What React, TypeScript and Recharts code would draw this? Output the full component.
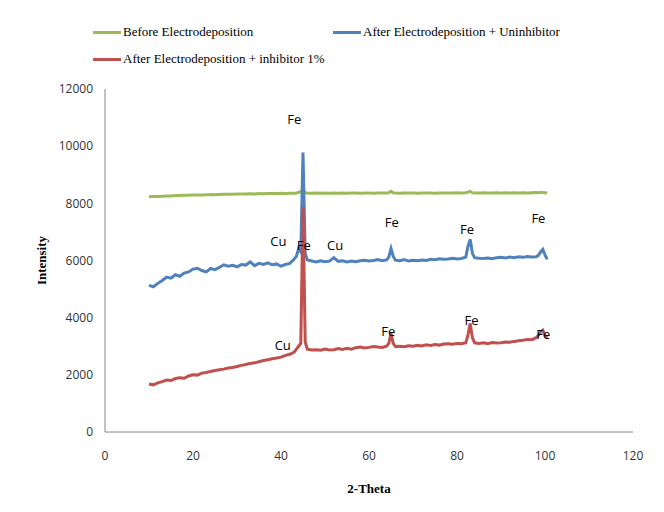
import React from 'react';
import { LineChart, Line, XAxis, YAxis, Legend, ReferenceDot, Label } from 'recharts';

const theta = [10,11,12,13,14,15,16,17,18,19,20,21,22,23,24,25,26,27,28,29,30,31,32,33,34,35,36,37,38,39,40,41,42,43,43.5,44,44.5,45,45.5,46,47,48,49,50,51,52,53,54,55,56,57,58,59,60,61,62,63,64,64.5,65,65.5,66,67,68,69,70,71,72,73,74,75,76,77,78,79,80,81,82,82.5,83,83.5,84,85,86,87,88,89,90,91,92,93,94,95,96,97,98,98.5,99,99.5,100,100.5];

const beforeElectro = [8230,8240,8235,8250,8260,8255,8270,8275,8280,8285,8290,8295,8290,8300,8305,8300,8310,8315,8320,8315,8325,8330,8325,8335,8330,8340,8335,8345,8340,8345,8350,8345,8350,8355,8360,8380,8420,8450,8380,8355,8350,8360,8355,8360,8350,8365,8355,8360,8350,8360,8365,8355,8360,8365,8355,8360,8365,8360,8370,8420,8370,8360,8355,8365,8360,8365,8355,8360,8365,8360,8355,8365,8360,8365,8360,8370,8365,8370,8390,8420,8370,8365,8360,8370,8365,8360,8370,8365,8370,8360,8370,8365,8370,8365,8370,8375,8370,8390,8380,8370,8360];

const afterUninhibited = [5130,5080,5200,5300,5420,5380,5500,5450,5560,5600,5700,5730,5650,5600,5720,5680,5760,5850,5800,5830,5780,5860,5840,5950,5820,5900,5860,5920,5850,5880,5800,5860,5900,6050,6150,6420,6300,9780,6250,6020,5980,5950,5990,5960,5980,6100,5970,5990,5950,5980,5960,5990,6010,5980,6000,6030,5990,6020,6120,6420,6150,6010,5990,6030,5980,6010,5990,6020,6000,6040,6030,6060,6040,6050,6080,6050,6070,6120,6500,6740,6250,6100,6080,6070,6090,6060,6100,6110,6090,6120,6100,6130,6110,6140,6120,6130,6180,6300,6390,6200,6040];

const afterInhibitor = [1680,1650,1720,1760,1820,1800,1870,1900,1880,1960,2000,1990,2060,2080,2120,2150,2180,2200,2240,2260,2290,2330,2360,2400,2420,2460,2500,2530,2560,2590,2620,2680,2720,2800,2900,3000,3100,7880,3150,2900,2870,2880,2860,2900,2870,2880,2920,2890,2930,2900,2950,2970,2940,2960,2990,2970,2960,3000,3100,3450,3100,2990,3000,2980,3020,3000,3030,3010,3050,3030,3060,3040,3080,3090,3070,3100,3090,3120,3400,3800,3300,3120,3100,3120,3090,3130,3110,3120,3150,3140,3170,3190,3210,3240,3230,3300,3380,3500,3560,3380,3300];

const xTicks = [0, 20, 40, 60, 80, 100, 120];
const yTicks = [0, 2000, 4000, 6000, 8000, 10000, 12000];

const seriesNames = [
  'Before Electrodeposition',
  'After Electrodeposition + Uninhibitor',
  'After Electrodeposition + inhibitor 1%',
];
const seriesKeys = ['before', 'uninhibited', 'inhibited'];
const seriesColors = ['#9BBB59', '#4F81BD', '#C0504D'];

const peakLabels = ['Fe', 'Cu', 'Fe', 'Cu', 'Fe', 'Fe', 'Fe', 'Cu', 'Fe', 'Fe', 'Fe'];
const peakTheta = [43.0, 39.4, 45.2, 52.3, 65.2, 82.3, 98.5, 40.4, 64.4, 83.3, 99.6];
const peakIntensity = [10934, 6654, 6538, 6514, 7318, 7087, 7472, 3042, 3507, 3916, 3427];

const data = theta.map((t, i) => ({
  theta: t,
  before: beforeElectro[i],
  uninhibited: afterUninhibited[i],
  inhibited: afterInhibitor[i],
}));

const legendSlots = [
  { left: 85, top: 24 },
  { left: 325, top: 24 },
  { left: 85, top: 51 },
];

const LegendContent = () => (
  <div style={{ position: 'relative', width: 640, height: 70, fontFamily: '"Liberation Serif", "Times New Roman", serif', fontSize: 13, color: '#000' }}>
    {seriesNames.map((name, i) => (
      <div key={name} style={{ position: 'absolute', left: legendSlots[i].left, top: legendSlots[i].top - 8, height: 16, display: 'flex', alignItems: 'center', whiteSpace: 'nowrap' }}>
        <span style={{ display: 'inline-block', width: 28, height: 3, background: seriesColors[i], marginRight: 2 }} />
        <span>{name}</span>
      </div>
    ))}
  </div>
);

const tickStyle = { fontFamily: '"Open Sans", sans-serif', fontSize: 12, fill: '#333' };

export default function App() {
  return (
    <LineChart width={640} height={496} data={data} margin={{ top: 81, right: 15, bottom: 12, left: 0 }}>
      <XAxis
        type="number"
        dataKey="theta"
        domain={[0, 120]}
        ticks={xTicks}
        tickLine={false}
        tickSize={0}
        tickMargin={19}
        height={60}
        stroke="#868686"
        tick={tickStyle}
        label={(props: any) => {
          const vb = props.viewBox;
          return (
            <text x={vb.x + vb.width / 2} y={vb.y + 61} textAnchor="middle" style={{ fontFamily: '"Liberation Serif", serif', fontSize: 13, fontWeight: 'bold' }} fill="#000">
              2-Theta
            </text>
          );
        }}
      />
      <YAxis
        type="number"
        domain={[0, 12000]}
        ticks={yTicks}
        tickLine={false}
        tickSize={0}
        tickMargin={12}
        width={97}
        stroke="#868686"
        tick={tickStyle}
        label={(props: any) => {
          const vb = props.viewBox;
          const cx = vb.x + 33;
          const cy = vb.y + vb.height / 2;
          return (
            <text x={cx} y={cy} dy="0.35em" textAnchor="middle" transform={`rotate(-90 ${cx} ${cy})`} style={{ fontFamily: '"Liberation Serif", serif', fontSize: 13, fontWeight: 'bold' }} fill="#000">
              Intensity
            </text>
          );
        }}
      />
      <Legend
        layout="horizontal"
        verticalAlign="middle"
        align="center"
        wrapperStyle={{ top: 0, left: 0, width: 640, height: 70 }}
        content={LegendContent}
      />
      {seriesKeys.map((k, i) => (
        <Line
          key={k}
          type="linear"
          dataKey={k}
          name={seriesNames[i]}
          stroke={seriesColors[i]}
          strokeWidth={3}
          dot={false}
          activeDot={false}
          isAnimationActive={false}
        />
      ))}
      {peakLabels.map((lbl, i) => (
        <ReferenceDot key={i} x={peakTheta[i]} y={peakIntensity[i]} r={0} fill="none" stroke="none" ifOverflow="visible">
          <Label value={lbl} position="center" style={{ fontFamily: '"Open Sans", sans-serif', fontSize: 13, fill: '#000' }} />
        </ReferenceDot>
      ))}
    </LineChart>
  );
}
